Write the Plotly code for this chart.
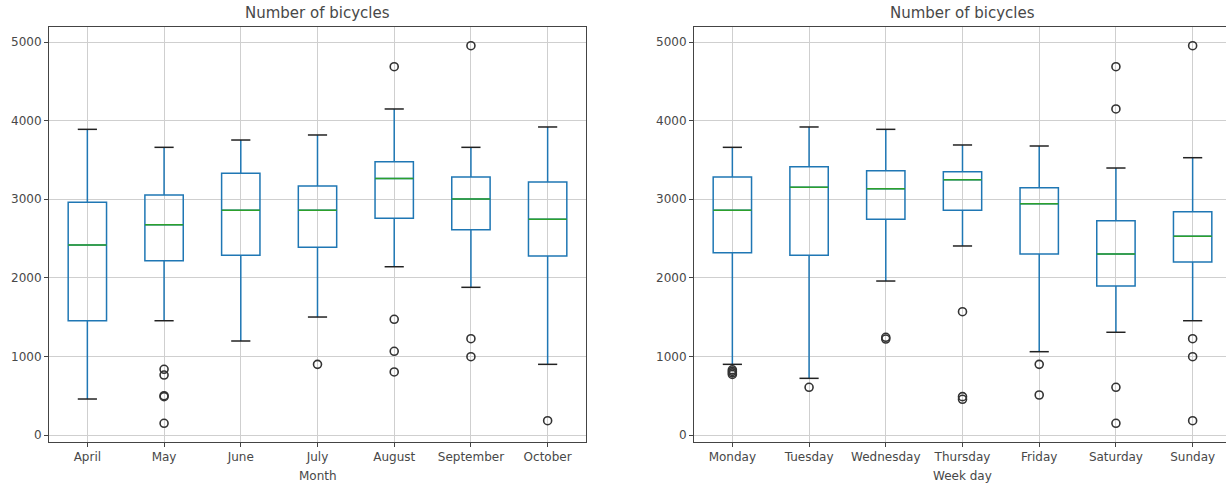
import plotly.graph_objects as go

# Daily bicycle counts summarised per month and per weekday
months = ["April", "May", "June", "July", "August", "September", "October"]
month_q1 = [1454, 2218, 2286, 2388, 2757, 2612, 2277]
month_median = [2417, 2676, 2859, 2859, 3265, 3003, 2744]
month_q3 = [2960, 3053, 3329, 3168, 3477, 3282, 3219]
month_low = [458, 1454, 1196, 1501, 2141, 1879, 899]
month_high = [3889, 3660, 3753, 3817, 4148, 3660, 3919]
month_outliers = [
    [],
    [836, 763, 500, 488, 149],
    [],
    [899],
    [4686, 1472, 1065, 802],
    [4953, 1225, 996],
    [182],
]

weekdays = ["Monday", "Tuesday", "Wednesday", "Thursday", "Friday", "Saturday", "Sunday"]
day_q1 = [2320, 2286, 2744, 2859, 2303, 1896, 2201]
day_median = [2859, 3151, 3134, 3248, 2943, 2303, 2528]
day_q3 = [3282, 3414, 3363, 3350, 3146, 2727, 2841]
day_low = [899, 721, 1959, 2405, 1060, 1307, 1454]
day_high = [3660, 3919, 3889, 3690, 3677, 3397, 3528]
day_outliers = [
    [830, 810, 790, 770],
    [607],
    [1243, 1221],
    [1569, 488, 454],
    [899, 509],
    [4686, 4148, 607, 149],
    [4953, 1225, 996, 182],
]

W, H = 1226, 487
BLUE = "#1f77b4"
GREEN = "#2ca02c"
TEXT = "#484848"
FRAME = "#444444"
GRID = "#cfcfcf"
BOX_W = 0.5
CAP_W = 0.25

fig = go.Figure()


def add_group(labels, q1, med, q3, lo, hi, outl, xa, ya):
    pos = list(range(1, len(labels) + 1))
    fig.add_trace(go.Box(
        x=pos, q1=q1, median=med, q3=q3, lowerfence=lo, upperfence=hi,
        width=BOX_W, whiskerwidth=0, boxpoints=False,
        line=dict(color=BLUE, width=1.5), fillcolor="rgba(0,0,0,0)",
        xaxis=xa, yaxis=ya, showlegend=False, hoverinfo="skip",
    ))
    # whisker caps
    cx, cy = [], []
    for p, a, b in zip(pos, lo, hi):
        cx += [p - CAP_W / 2, p + CAP_W / 2, None, p - CAP_W / 2, p + CAP_W / 2, None]
        cy += [a, a, None, b, b, None]
    fig.add_trace(go.Scatter(x=cx, y=cy, mode="lines", line=dict(color="#222222", width=1.5),
                             xaxis=xa, yaxis=ya, showlegend=False, hoverinfo="skip"))
    # medians
    mx, my = [], []
    for p, m in zip(pos, med):
        mx += [p - BOX_W / 2, p + BOX_W / 2, None]
        my += [m, m, None]
    fig.add_trace(go.Scatter(x=mx, y=my, mode="lines", line=dict(color=GREEN, width=1.5),
                             xaxis=xa, yaxis=ya, showlegend=False, hoverinfo="skip"))
    # fliers
    fx, fy = [], []
    for p, vals in zip(pos, outl):
        fx += [p] * len(vals)
        fy += vals
    fig.add_trace(go.Scatter(x=fx, y=fy, mode="markers",
                             marker=dict(symbol="circle-open", size=8, color="#333333",
                                         line=dict(width=1.6)),
                             xaxis=xa, yaxis=ya, showlegend=False, hoverinfo="skip"))


add_group(months, month_q1, month_median, month_q3, month_low, month_high, month_outliers, "x", "y")
add_group(weekdays, day_q1, day_median, day_q3, day_low, day_high, day_outliers, "x2", "y2")

y_dom = [1 - 442 / H, 1 - 27 / H]
y_rng = [-89, 5191]
font = dict(family="DejaVu Sans", size=12, color=TEXT)

left_px, right_px = (49, 586), (694, W)
step = (586 - 49) / 7.0

common_x = dict(
    tickmode="array", tickvals=list(range(1, 8)),
    showgrid=True, gridcolor=GRID, gridwidth=1,
    showline=True, linecolor=FRAME, linewidth=1,
    ticks="outside", ticklen=4, tickcolor=FRAME,
    zeroline=False, tickfont=font, fixedrange=True,
)
common_y = dict(
    tickmode="array", tickvals=[0, 1000, 2000, 3000, 4000, 5000],
    range=y_rng, domain=y_dom,
    showgrid=True, gridcolor=GRID, gridwidth=1,
    showline=True, linecolor=FRAME, linewidth=1,
    ticks="outside", ticklen=4, tickcolor=FRAME,
    zeroline=False, tickfont=font, fixedrange=True,
)

fig.update_layout(
    width=W, height=H,
    margin=dict(l=0, r=0, t=0, b=0),
    paper_bgcolor="white", plot_bgcolor="white",
    font=font,
    xaxis=dict(common_x, ticktext=months, domain=[left_px[0] / W, left_px[1] / W],
               range=[0.5, 7.5], mirror=True, anchor="y"),
    yaxis=dict(common_y, mirror=True, anchor="x"),
    xaxis2=dict(common_x, ticktext=weekdays, domain=[right_px[0] / W, 1.0],
                range=[0.5, 0.5 + (right_px[1] - right_px[0]) / step], mirror=True, anchor="y2"),
    yaxis2=dict(common_y, mirror=False, anchor="x2"),
)

title_font = dict(family="DejaVu Sans", size=15, color=TEXT)
for (a, b) in (left_px, (694, 694 + 7 * step)):
    fig.add_annotation(text="Number of bicycles", xref="paper", yref="paper",
                       x=(a + b) / 2 / W, y=1 - 24 / H, xanchor="center", yanchor="bottom",
                       showarrow=False, font=title_font)

for (a, b), lab in ((left_px, "Month"), ((694, 694 + 7 * step), "Week day")):
    fig.add_annotation(text=lab, xref="paper", yref="paper",
                       x=(a + b) / 2 / W, y=1 - 476 / H, xanchor="center", yanchor="middle",
                       showarrow=False, font=font)

fig.write_html("out.html")
